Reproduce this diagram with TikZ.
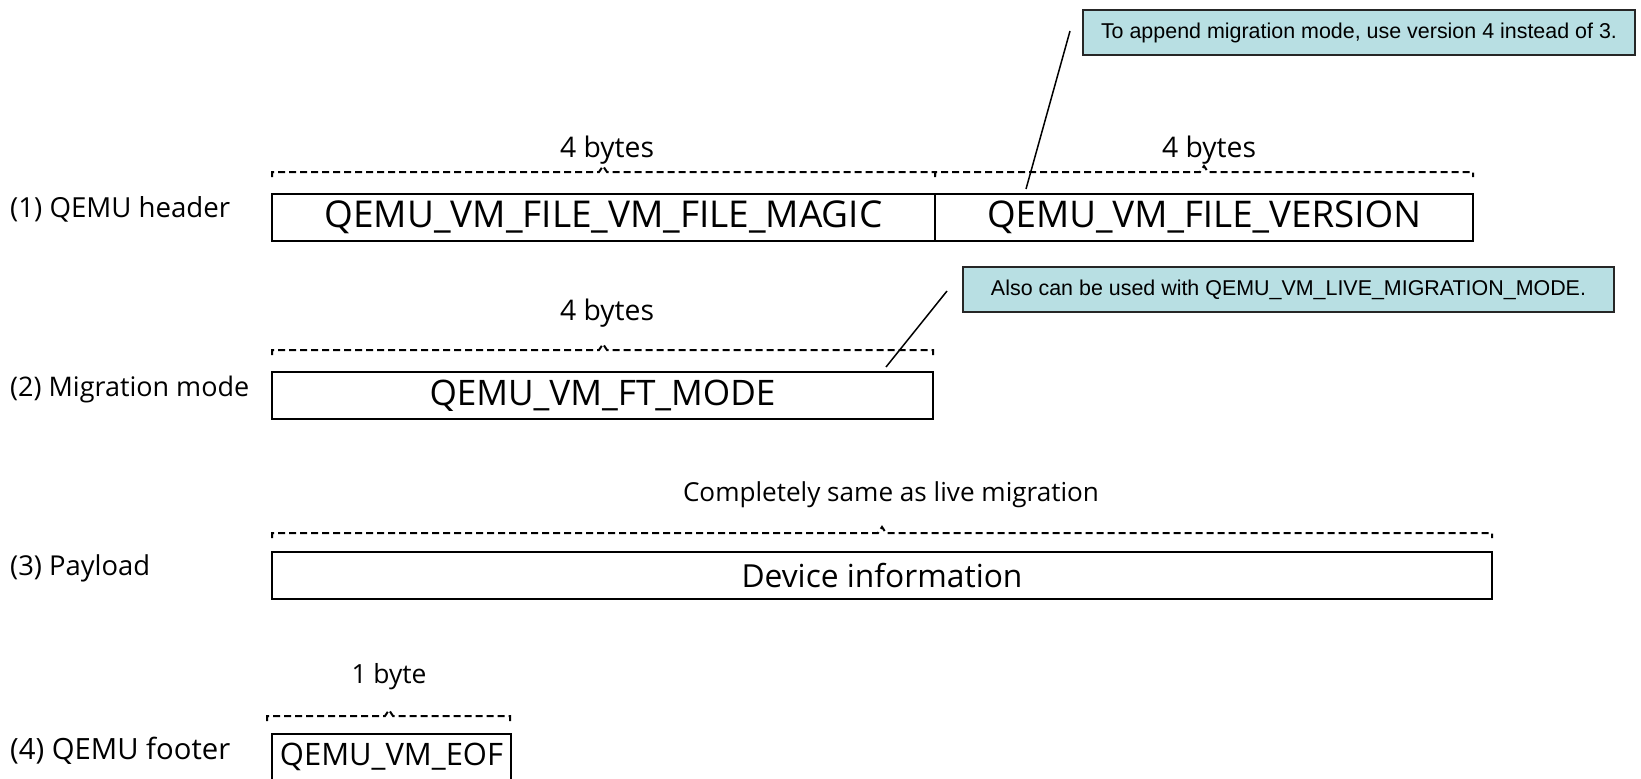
\documentclass[tikz,border=0pt]{standalone}
\usepackage{fontspec}
\setmainfont{Open Sans}
\newfontfamily\arialf{Liberation Sans}
\usepackage{graphicx}
\definecolor{callfill}{RGB}{184,223,227}
\newcommand{\fitw}[2]{\resizebox{#1pt}{!}{#2}}
\begin{document}
\begin{tikzpicture}[x=1pt,y=-1pt,
  field/.style={draw, line width=2pt, minimum height=47pt, inner sep=0pt, anchor=center},
  lbl/.style={inner sep=0pt, anchor=west, font=\fontsize{26}{30}\selectfont},
  sizelbl/.style={inner sep=0pt, font=\fontsize{26}{30}\selectfont},
  brace/.style={dash pattern=on 7pt off 4pt, line width=2pt},
  callout/.style={draw=black!85, fill=callfill, line width=1.5pt, inner sep=0pt, font=\arialf\fontsize{19}{22}\selectfont},
  leader/.style={line width=1.5pt}]
\path[use as bounding box, fill=white] (0,0) rectangle (1641,779);

% (1) header
\node[lbl] (l1) at (10,209) {\fitw{220}{(1) QEMU header}};
\node[field, minimum width=663pt] (magic) at (603.5,217.5) {\fontsize{34}{40}\selectfont\fitw{558}{QEMU\_VM\_FILE\_VM\_FILE\_MAGIC}};
\node[field, minimum width=538pt] (version) at (1204,217.5) {\fontsize{34}{40}\selectfont\fitw{434}{QEMU\_VM\_FILE\_VERSION}};
\draw[brace] (272,177) -- (272,172) -- (599,172) -- (603,166) -- (607,172) -- (935,172) -- (935,177);
\draw[brace] (935,177) -- (935,172) -- (1200,172) -- (1204,166) -- (1208,172) -- (1473,172) -- (1473,177);
\node[sizelbl] (b1) at (607,150) {\fitw{94}{4 bytes}};
\node[sizelbl] (b2) at (1209,150) {\fitw{94}{4 bytes}};

% (2) migration mode
\node[lbl] (l2) at (10,389) {\fitw{239}{(2) Migration mode}};
\node[field, minimum width=661pt] (ft) at (602.5,395.5) {\fontsize{34}{40}\selectfont\fitw{346}{QEMU\_VM\_FT\_MODE}};
\draw[brace] (272,355) -- (272,350) -- (599,350) -- (603,344) -- (607,350) -- (933,350) -- (933,355);
\node[sizelbl] (b3) at (607,313) {\fitw{94}{4 bytes}};

% (3) payload
\node[lbl] (l3) at (10,568) {\fitw{140}{(3) Payload}};
\node[field, minimum width=1220pt] (dev) at (882,575.5) {\fontsize{34}{40}\selectfont\fitw{281}{Device information}};
\draw[brace] (272,538) -- (272,533) -- (878,533) -- (882,527) -- (886,533) -- (1492,533) -- (1492,538);
\node[sizelbl] (b4) at (891,495) {\fitw{416}{Completely same as live migration}};

% (4) footer
\node[lbl] (l4) at (10,751) {\fitw{220}{(4) QEMU footer}};
\node[field, minimum width=239pt] (eof) at (391.5,757) {\fontsize{30}{36}\selectfont\fitw{223}{QEMU\_VM\_EOF}};
\draw[brace] (267,721) -- (267,716) -- (385,716) -- (389,710) -- (393,716) -- (510,716) -- (510,721);
\node[sizelbl] (b5) at (389,677) {\fitw{75}{1 byte}};

% callouts
\node[callout, minimum width=552pt, minimum height=45pt] (c1) at (1359,32.5) {\fitw{516}{To append migration mode, use version 4 instead of 3.}};
\node[callout, minimum width=651pt, minimum height=45pt] (c2) at (1288.5,289.5) {\fitw{595}{Also can be used with QEMU\_VM\_LIVE\_MIGRATION\_MODE.}};
\coordinate (p1a) at (1070,31);
\coordinate (p1b) at (1026,189);
\coordinate (p2a) at (947,291);
\coordinate (p2b) at (886,367);
\draw[leader] (p1a) -- (p1b);
\draw[leader] (p2a) -- (p2b);
\end{tikzpicture}
\end{document}
